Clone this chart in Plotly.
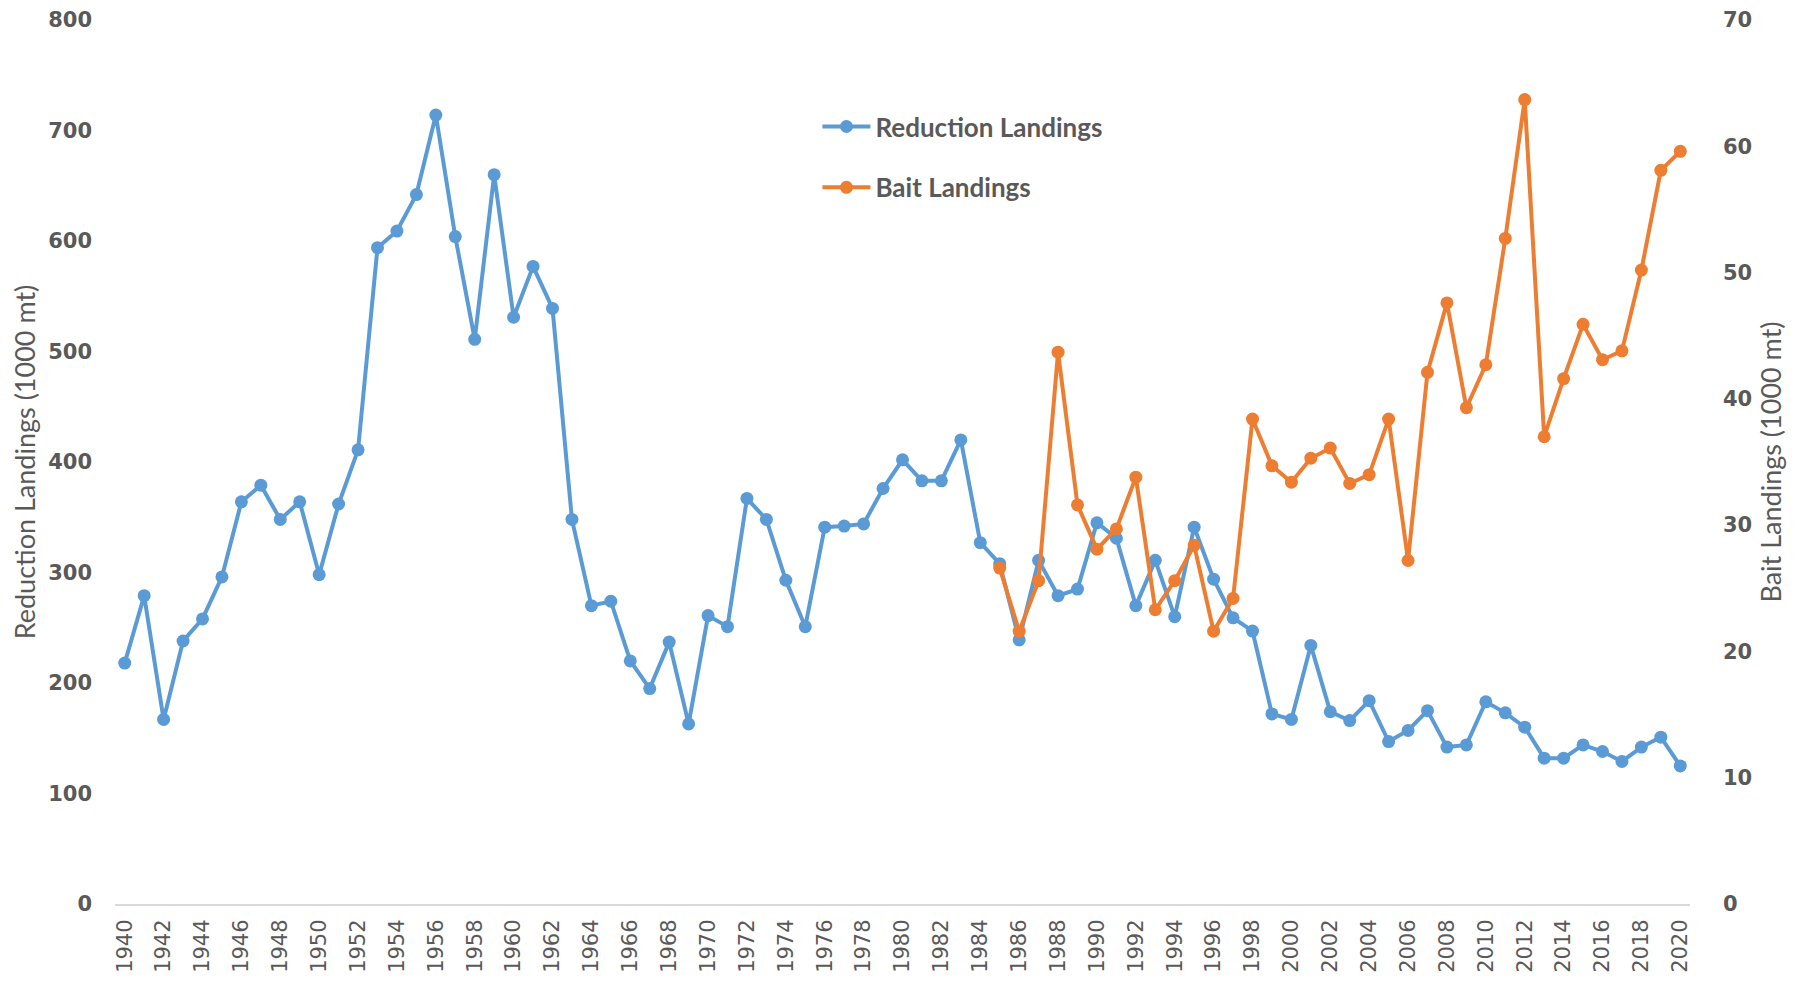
import plotly.graph_objects as go

years = list(range(1940, 2021))
reduction = [
    218, 279, 167, 238, 258, 296, 364, 379, 348, 364,
    298, 362, 411, 594, 609, 642, 714, 604, 511, 660,
    531, 577, 539, 348, 270, 274, 220, 195, 237, 163,
    261, 251, 367, 348, 293, 251, 341, 342, 344, 376,
    402, 383, 383, 420, 327, 308, 239, 311, 279, 285,
    345, 331, 270, 311, 260, 341, 294, 259, 247, 172,
    167, 234, 174, 166, 184, 147, 157, 175, 142, 144,
    183, 173, 160, 132, 132, 144, 138, 129, 142, 151,
    125,
]
bait_years = list(range(1985, 2021))
bait = [
    26.6, 21.6, 25.6, 43.7, 31.6, 28.1, 29.7, 33.8, 23.3, 25.6,
    28.4, 21.6, 24.2, 38.4, 34.7, 33.4, 35.3, 36.1, 33.3, 34.0,
    38.4, 27.2, 42.1, 47.6, 39.3, 42.7, 52.7, 63.7, 37.0, 41.6,
    45.9, 43.1, 43.8, 50.2, 58.1, 59.6,
]
x_ticks = list(range(1940, 2021, 2))

BLUE = "#5B9BD5"
ORANGE = "#ED7D31"
TEXT = "#595959"

fig = go.Figure()
fig.add_trace(
    go.Scatter(
        x=years,
        y=reduction,
        mode="lines+markers",
        name="Reduction Landings",
        legendgroup="r",
        line={"color": BLUE, "width": 4},
        marker={"color": BLUE, "size": 13},
    )
)
fig.add_trace(
    go.Scatter(
        x=bait_years,
        y=bait,
        mode="lines+markers",
        name="Bait Landings",
        legendgroup="b",
        yaxis="y2",
        line={"color": ORANGE, "width": 4},
        marker={"color": ORANGE, "size": 13},
    )
)

# page body has an 8px margin, so the figure is a bit smaller than the window
fig.update_layout(
    width=1783,
    height=965,
    paper_bgcolor="white",
    plot_bgcolor="white",
    margin={"l": 107, "r": 101, "t": 12, "b": 69},
    font={"family": "DejaVu Sans", "color": TEXT},
    legend={
        "x": 0.446,
        "y": 0.906,
        "xanchor": "left",
        "yanchor": "top",
        "font": {"family": "Lato", "size": 26, "color": TEXT, "weight": "bold"},
        "itemwidth": 48,
        "tracegroupgap": 24,
        "bgcolor": "rgba(0,0,0,0)",
    },
    xaxis={
        "range": [1939.5, 2020.5],
        "tickvals": x_ticks,
        "tickangle": -90,
        "tickfont": {"size": 21, "color": TEXT},
        "showgrid": False,
        "zeroline": False,
        "showline": True,
        "linecolor": "#d9d9d9",
        "linewidth": 2,
        "ticklabelstandoff": 5,
        "automargin": False,
    },
    yaxis={
        "range": [0, 800],
        "dtick": 100,
        "showgrid": False,
        "zeroline": False,
        "automargin": False,
        "tickfont": {"size": 21, "color": TEXT, "weight": "bold"},
        "ticklabelstandoff": 22,
        "title": {
            "text": "Reduction Landings (1000 mt)",
            "font": {"family": "Lato", "size": 27, "color": TEXT},
            "standoff": 12,
        },
    },
    yaxis2={
        "range": [0, 70],
        "dtick": 10,
        "overlaying": "y",
        "side": "right",
        "showgrid": False,
        "zeroline": False,
        "automargin": False,
        "tickfont": {"size": 21, "color": TEXT, "weight": "bold"},
        "ticklabelstandoff": 32,
        "title": {
            "text": "Bait Landings (1000 mt)",
            "font": {"family": "Lato", "size": 27, "color": TEXT},
            "standoff": 10,
        },
    },
)

fig.write_html("out.html")
